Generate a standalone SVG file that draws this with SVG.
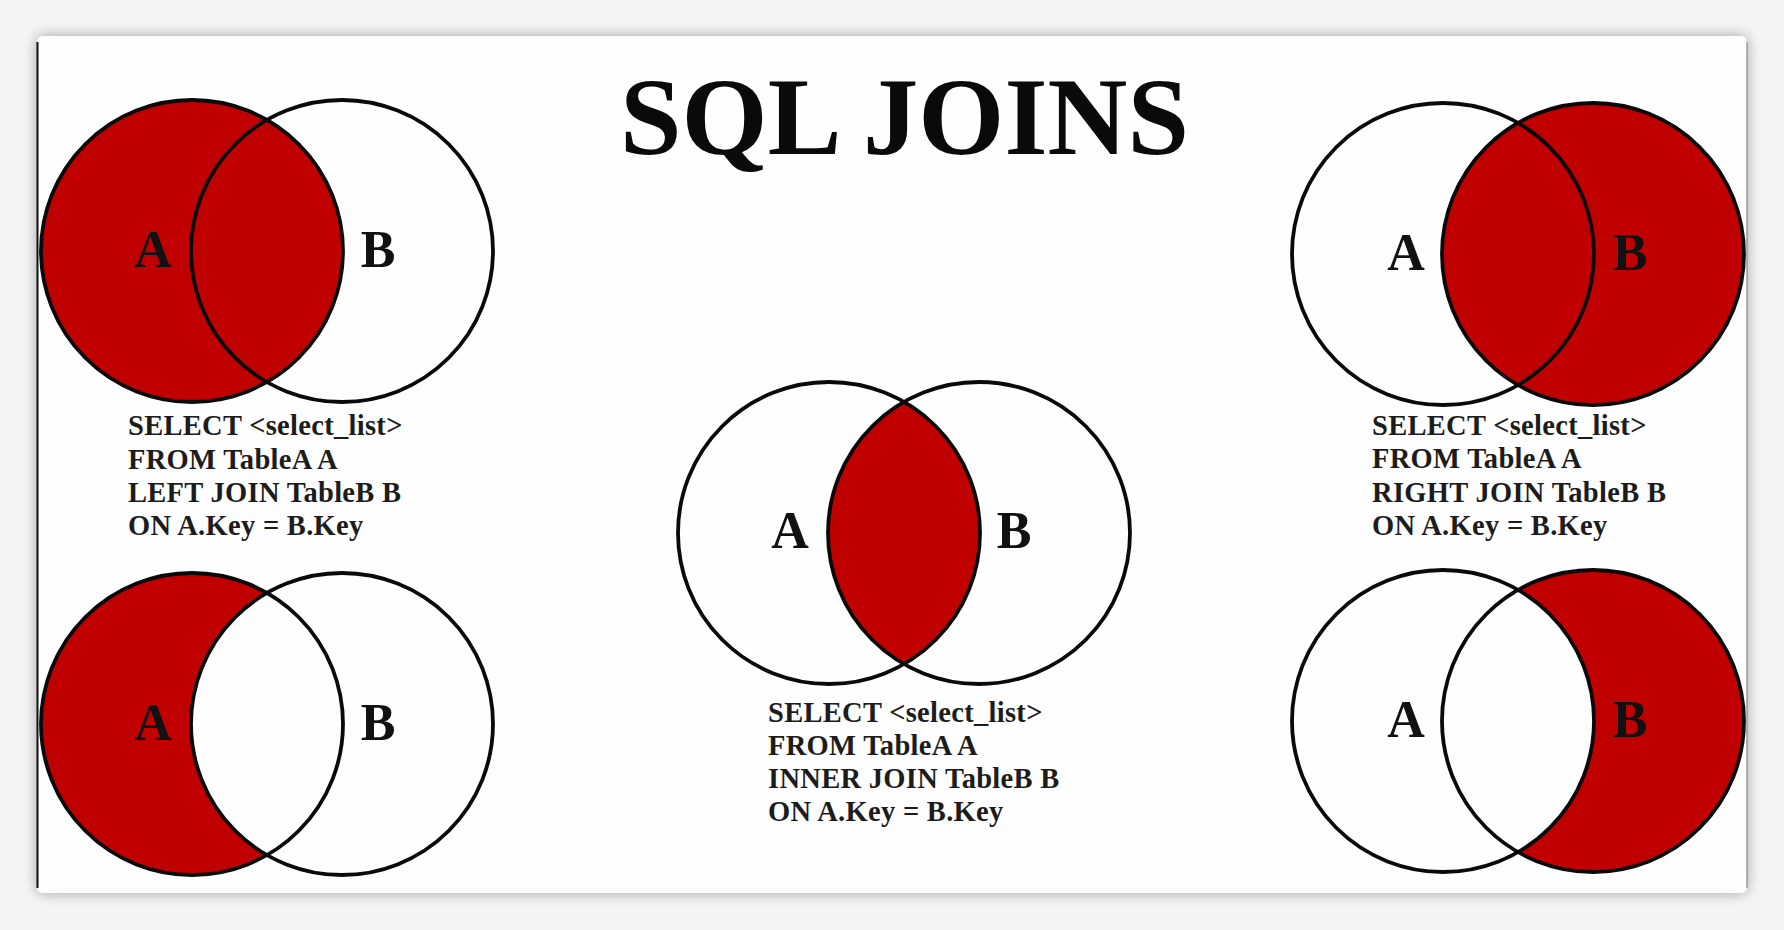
<svg xmlns="http://www.w3.org/2000/svg" width="1784" height="930" viewBox="0 0 1784 930">
<defs>
<style>
.ring{fill:none;stroke:#0a0a0a;stroke-width:3.8}
.red{fill:#c00000;stroke:none}
.lbl{font-family:"Liberation Serif","Times New Roman",serif;font-weight:bold;font-size:52px;fill:#111;text-anchor:middle}
.sql{font-family:"Liberation Serif","Times New Roman",serif;font-weight:bold;font-size:28.5px;letter-spacing:0.3px;fill:#1c1c1c}
.title{font-family:"Liberation Serif","Times New Roman",serif;font-weight:bold;font-size:110px;fill:#0a0a0a}
</style>
<filter id="sh" x="-5%" y="-5%" width="110%" height="110%">
<feGaussianBlur in="SourceAlpha" stdDeviation="7"/>
<feComponentTransfer><feFuncA type="linear" slope="0.35"/></feComponentTransfer>
<feMerge><feMergeNode/><feMergeNode in="SourceGraphic"/></feMerge>
</filter>
<g id="rings">
<circle class="ring" cx="0" cy="0" r="151"/>
<circle class="ring" cx="150" cy="0" r="151"/>
</g>
</defs>
<rect x="0" y="0" width="1784" height="930" fill="#f4f4f4"/>
<g id="panel">
<rect x="37" y="36" width="1710" height="857" rx="6" fill="#fefefe" filter="url(#sh)"/>
<line x1="37.5" y1="42" x2="37.5" y2="888" stroke="#111" stroke-width="2"/>
<line x1="1747" y1="42" x2="1747" y2="888" stroke="#9a9a9a" stroke-width="1.5"/>
</g>
<g id="title">
<text class="title" x="620" y="154" textLength="569" lengthAdjust="spacingAndGlyphs">SQL JOINS</text>
</g>
<g id="left-join" transform="translate(192,251)">
<circle class="red" cx="0" cy="0" r="151"/>
<use href="#rings"/>
<text class="lbl" x="-39" y="16">A</text>
<text class="lbl" x="186" y="16">B</text>
</g>
<g id="left-join-sql">
<text class="sql" x="128" y="435">SELECT &lt;select_list&gt;</text>
<text class="sql" x="128" y="469">FROM TableA A</text>
<text class="sql" x="128" y="502">LEFT JOIN TableB B</text>
<text class="sql" x="128" y="535">ON A.Key = B.Key</text>
</g>
<g id="left-only" transform="translate(192,724)">
<path class="red" d="M75,-131.06 A151,151 0 1 0 75,131.06 A151,151 0 0 1 75,-131.06 Z"/>
<use href="#rings"/>
<text class="lbl" x="-39" y="16">A</text>
<text class="lbl" x="186" y="16">B</text>
</g>
<g id="inner-join" transform="translate(829,533)">
<path class="red" d="M75,-131.06 A151,151 0 0 1 75,131.06 A151,151 0 0 1 75,-131.06 Z"/>
<use href="#rings"/>
<text class="lbl" x="-39" y="15">A</text>
<text class="lbl" x="185" y="15">B</text>
</g>
<g id="inner-join-sql">
<text class="sql" x="768" y="722">SELECT &lt;select_list&gt;</text>
<text class="sql" x="768" y="755">FROM TableA A</text>
<text class="sql" x="768" y="788">INNER JOIN TableB B</text>
<text class="sql" x="768" y="821">ON A.Key = B.Key</text>
</g>
<g id="right-join" transform="translate(1443,254)">
<circle class="red" cx="150" cy="0" r="151"/>
<use href="#rings"/>
<text class="lbl" x="-37" y="16">A</text>
<text class="lbl" x="187" y="16">B</text>
</g>
<g id="right-join-sql">
<text class="sql" x="1372" y="435">SELECT &lt;select_list&gt;</text>
<text class="sql" x="1372" y="468">FROM TableA A</text>
<text class="sql" x="1372" y="502">RIGHT JOIN TableB B</text>
<text class="sql" x="1372" y="535">ON A.Key = B.Key</text>
</g>
<g id="right-only" transform="translate(1443,721)">
<path class="red" d="M75,-131.06 A151,151 0 1 1 75,131.06 A151,151 0 0 0 75,-131.06 Z"/>
<use href="#rings"/>
<text class="lbl" x="-37" y="16">A</text>
<text class="lbl" x="187" y="16">B</text>
</g>
<g id="connectors"></g>
</svg>
